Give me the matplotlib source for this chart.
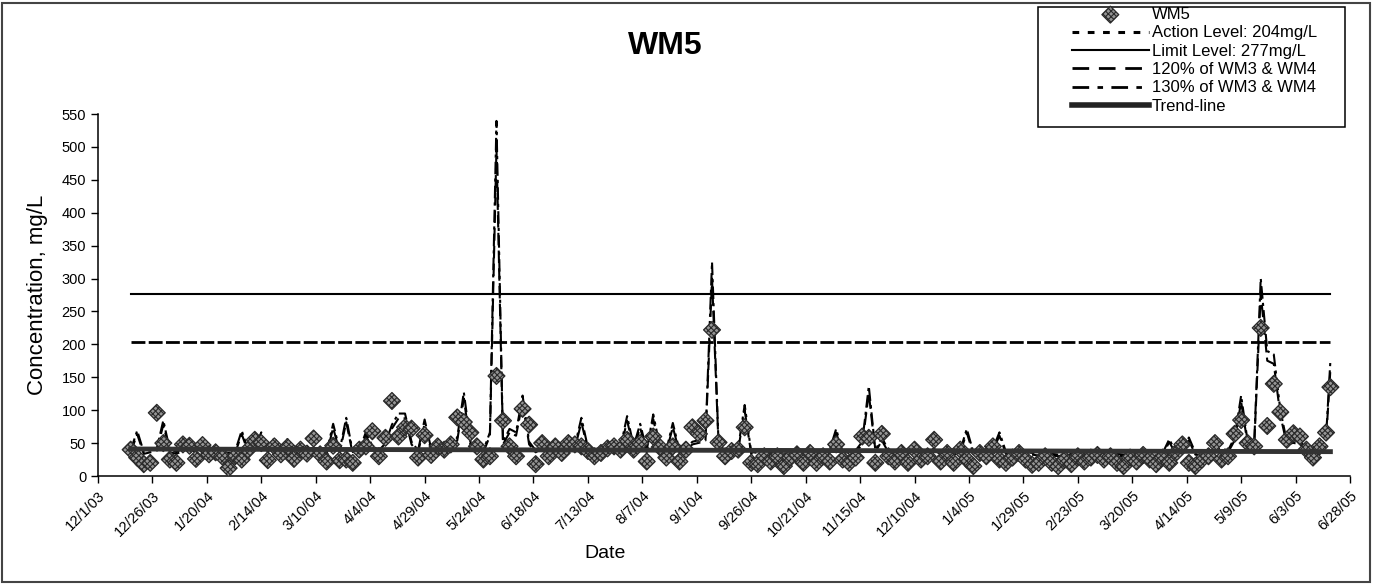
import matplotlib
matplotlib.use("Agg")
import matplotlib.pyplot as plt
from matplotlib.lines import Line2D
from matplotlib.patches import Rectangle
import pandas as pd

plt.rcParams['font.family'] = ['Liberation Sans', 'DejaVu Sans']
plt.rcParams['hatch.linewidth'] = 0.8
plt.rcParams['hatch.color'] = '#2a2a2a'

# ---------------- data ----------------
sample_dates = [
    '12/16/03', '12/19/03', '12/22/03', '12/25/03', '12/28/03', '12/31/03',
    '1/3/04', '1/6/04', '1/9/04', '1/12/04', '1/15/04', '1/18/04', '1/21/04', '1/24/04', '1/27/04', '1/30/04',
    '2/2/04', '2/5/04', '2/8/04', '2/11/04', '2/14/04', '2/17/04', '2/20/04', '2/23/04', '2/26/04', '2/29/04',
    '3/3/04', '3/6/04', '3/9/04', '3/12/04', '3/15/04', '3/18/04', '3/21/04', '3/24/04', '3/27/04', '3/30/04',
    '4/2/04', '4/5/04', '4/8/04', '4/11/04', '4/14/04', '4/17/04', '4/20/04', '4/23/04', '4/26/04', '4/29/04',
    '5/2/04', '5/5/04', '5/8/04', '5/11/04', '5/14/04', '5/17/04', '5/20/04', '5/23/04', '5/26/04', '5/29/04',
    '6/1/04', '6/4/04', '6/7/04', '6/10/04', '6/13/04', '6/16/04', '6/19/04', '6/22/04', '6/25/04', '6/28/04',
    '7/1/04', '7/4/04', '7/7/04', '7/10/04', '7/13/04', '7/16/04', '7/19/04', '7/22/04', '7/25/04', '7/28/04', '7/31/04',
    '8/3/04', '8/6/04', '8/9/04', '8/12/04', '8/15/04', '8/18/04', '8/21/04', '8/24/04', '8/27/04', '8/30/04',
    '9/2/04', '9/5/04', '9/8/04', '9/11/04', '9/14/04', '9/17/04', '9/20/04', '9/23/04', '9/26/04', '9/29/04',
    '10/2/04', '10/5/04', '10/8/04', '10/11/04', '10/14/04', '10/17/04', '10/20/04', '10/23/04', '10/26/04', '10/29/04',
    '11/1/04', '11/4/04', '11/7/04', '11/10/04', '11/13/04', '11/16/04', '11/19/04', '11/22/04', '11/25/04', '11/28/04',
    '12/1/04', '12/4/04', '12/7/04', '12/10/04', '12/13/04', '12/16/04', '12/19/04', '12/22/04', '12/25/04', '12/28/04', '12/31/04',
    '1/3/05', '1/6/05', '1/9/05', '1/12/05', '1/15/05', '1/18/05', '1/21/05', '1/24/05', '1/27/05', '1/30/05',
    '2/2/05', '2/5/05', '2/8/05', '2/11/05', '2/14/05', '2/17/05', '2/20/05', '2/23/05', '2/26/05',
    '3/1/05', '3/4/05', '3/7/05', '3/10/05', '3/13/05', '3/16/05', '3/19/05', '3/22/05', '3/25/05', '3/28/05', '3/31/05',
    '4/3/05', '4/6/05', '4/9/05', '4/12/05', '4/15/05', '4/18/05', '4/21/05', '4/24/05', '4/27/05', '4/30/05',
    '5/3/05', '5/6/05', '5/9/05', '5/12/05', '5/15/05', '5/18/05', '5/21/05', '5/24/05', '5/27/05', '5/30/05',
    '6/2/05', '6/5/05', '6/8/05', '6/11/05', '6/14/05', '6/17/05', '6/19/05',
]

wm5_values = [
    40, 28, 18, 20, 96, 50,
    25, 20, 48, 46, 26, 47, 33, 36, 30, 12,
    30, 25, 40, 55, 50, 24, 45, 33, 44, 26,
    40, 34, 57, 33, 22, 46, 24, 25, 20, 40,
    45, 68, 30, 58, 114, 60, 74, 72, 28, 62,
    32, 45, 40, 48, 89, 82, 66, 45, 25, 30,
    152, 84, 45, 30, 102, 78, 18, 50, 30, 45,
    35, 50, 48, 45, 38, 30, 35, 42, 45, 40, 55,
    40, 50, 22, 60, 44, 28, 45, 22, 40, 74,
    64, 84, 222, 51, 30, 38, 40, 74, 20, 18,
    30, 22, 30, 15, 28, 33, 20, 35, 20, 30,
    22, 48, 25, 20, 28, 60, 58, 20, 64, 30,
    22, 35, 20, 40, 25, 30, 55, 22, 35, 20, 40,
    25, 15, 35, 30, 45, 25, 20, 28, 35, 25,
    17, 20, 30, 20, 15, 25, 18, 30, 22,
    28, 32, 25, 30, 20, 15, 28, 22, 32, 25, 18,
    28, 20, 35, 48, 20, 15, 25, 30, 50, 25,
    30, 64, 85, 50, 45, 225, 76, 140, 97, 55,
    65, 60, 40, 28, 45, 66, 135,
]

# average of upgradient wells WM3 & WM4 (read from the 120 % / 130 % lines)
wm3_wm4_values = [
    30, 53, 28, 30, 32, 65,
    30, 28, 32, 34, 30, 33, 30, 31, 28, 27,
    29, 53, 30, 33, 51, 30, 45, 30, 43, 30,
    31, 30, 33, 31, 28, 61, 30, 68, 28, 30,
    51, 35, 30, 38, 60, 73, 73, 40, 30, 66,
    32, 35, 33, 36, 45, 98, 40, 33, 30, 51,
    415, 40, 55, 51, 94, 40, 30, 35, 32, 35,
    33, 36, 35, 68, 33, 30, 32, 35, 36, 34, 70,
    35, 61, 30, 72, 35, 30, 62, 30, 33, 40,
    42, 45, 250, 38, 30, 32, 33, 83, 28, 27,
    28, 27, 28, 26, 27, 28, 27, 28, 27, 28,
    30, 55, 28, 27, 30, 40, 105, 30, 45, 30,
    28, 29, 27, 30, 28, 29, 32, 28, 30, 27, 30,
    55, 28, 29, 30, 32, 51, 28, 27, 29, 28,
    27, 26, 27, 26, 25, 27, 26, 27, 26,
    27, 28, 27, 28, 26, 25, 27, 26, 28, 27, 26,
    27, 43, 28, 30, 45, 27, 26, 28, 30, 32,
    30, 45, 94, 40, 38, 231, 146, 142, 77, 40,
    42, 40, 33, 30, 35, 45, 135,
]

action_level = 204
limit_level = 277

# linear trend-line of WM5, start and end values
trend_values = [41, 37]

tick_labels = ['12/1/03', '12/26/03', '1/20/04', '2/14/04', '3/10/04', '4/4/04', '4/29/04',
               '5/24/04', '6/18/04', '7/13/04', '8/7/04', '9/1/04', '9/26/04', '10/21/04',
               '11/15/04', '12/10/04', '1/4/05', '1/29/05', '2/23/05', '3/20/05', '4/14/05',
               '5/9/05', '6/3/05', '6/28/05']

# ---------------- derived ----------------
dates = pd.to_datetime(sample_dates, format='%m/%d/%y')
ticks = pd.to_datetime(tick_labels, format='%m/%d/%y')
pct120 = [1.2 * v for v in wm3_wm4_values]
pct130 = [1.3 * v for v in wm3_wm4_values]
trend_x = [dates[0], dates[-1]]

# ---------------- figure ----------------
W, H = 1373, 585
fig = plt.figure(figsize=(W / 100, H / 100), dpi=100)
fig.patch.set_facecolor('white')

ax = fig.add_axes([98 / W, 1 - 476 / H, (1350 - 98) / W, (476 - 114) / H])

ax.plot(dates, pct120, color='black', lw=1.5, dashes=(6, 2.5), zorder=2)
ax.plot(dates, pct130, color='black', lw=1.5, dashes=(6, 2, 1.5, 2), zorder=2)
ax.plot([dates[0], dates[-1]], [limit_level, limit_level], color='black', lw=1.5, zorder=2)
ax.plot([dates[0], dates[-1]], [action_level, action_level], color='black', lw=2,
        dashes=(5, 1.2), zorder=2)

sc = ax.scatter(dates, wm5_values, marker='D', s=74, facecolor='#959595',
                edgecolor='#2a2a2a', linewidths=0.9, hatch='xxxxxx', zorder=3)

ax.plot(trend_x, trend_values, color='#333333', lw=3.5, zorder=4)

ax.set_xlim(ticks[0], ticks[-1])
ax.set_ylim(0, 550)
ax.set_yticks(range(0, 551, 50))
ax.set_xticks(ticks)
ax.set_xticklabels(tick_labels, rotation=45, ha='right', rotation_mode='anchor')
ax.tick_params(axis='both', direction='out', length=5, width=1, labelsize=10.5, colors='black')
ax.tick_params(axis='x', pad=4)
for s in ('top', 'right'):
    ax.spines[s].set_visible(False)
for s in ('left', 'bottom'):
    ax.spines[s].set_linewidth(1.1)
    ax.spines[s].set_color('black')

fig.text(665 / W, 1 - 46 / H, 'WM5', ha='center', va='center', fontsize=23, fontweight='bold')
fig.text(38 / W, 1 - 295 / H, 'Concentration, mg/L', rotation=90, ha='center', va='center',
         fontsize=16)
fig.text(605 / W, 1 - 553 / H, 'Date', ha='center', va='center', fontsize=14)

# legend
handles = [
    sc,
    Line2D([], [], color='black', lw=2.2, dashes=(2.2, 2.8)),
    Line2D([], [], color='black', lw=1.5),
    Line2D([], [], color='black', lw=2, dashes=(6, 3.5)),
    Line2D([], [], color='black', lw=2, dashes=(6, 3, 2, 3)),
    Line2D([], [], color='#222222', lw=4),
]
labels = ['WM5', 'Action Level: 204mg/L', 'Limit Level: 277mg/L',
          '120% of WM3 & WM4', '130% of WM3 & WM4', 'Trend-line']
fig.legend(handles, labels, loc='upper left', bbox_to_anchor=(1072 / W, 1 - 7 / H),
           bbox_transform=fig.transFigure, frameon=False, fontsize=12, handlelength=4.6,
           handletextpad=0.2, labelspacing=0.2, borderpad=0, borderaxespad=0,
           scatterpoints=1)
fig.add_artist(Rectangle((1038 / W, 1 - 127 / H), 307 / W, 120 / H, transform=fig.transFigure,
                         fill=False, edgecolor='black', lw=1.1))
fig.add_artist(Rectangle((2 / W, 3 / H), (W - 5) / W, (H - 6) / H, transform=fig.transFigure,
                         fill=False, edgecolor='#444444', lw=1.5))

fig.savefig('out.png', dpi=100, facecolor='white')
